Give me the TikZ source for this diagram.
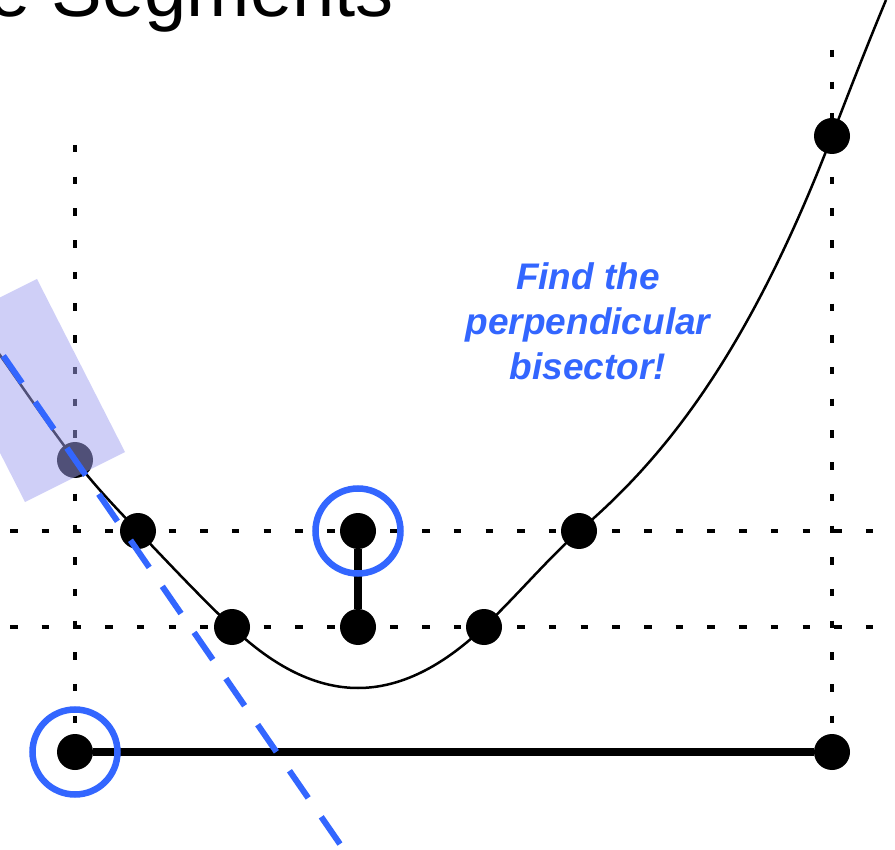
\documentclass[tikz,border=0pt]{standalone}
\usepackage{fontspec}
\setmainfont{Liberation Sans}
\definecolor{hintblue}{RGB}{51,102,255}
\definecolor{boxblue}{RGB}{160,160,240}
\tikzset{
  knot/.style={circle, fill=black, inner sep=0pt, minimum size=36pt},
  ring/.style={circle, draw=hintblue, line width=6.5pt, minimum size=85pt, inner sep=0pt},
  guide/.style={line width=3.2pt, dash pattern=on 7.5pt off 24.2pt},
  seg/.style={line width=8pt},
  bisector/.style={draw=hintblue, line width=6pt, dash pattern=on 33pt off 23pt, dash phase=32.5pt},
}
\begin{document}
\begin{tikzpicture}[x=1pt, y=-1pt]
	\useasboundingbox (0,0) rectangle (895,850);

	% Titel (oben abgeschnitten)
	\node[anchor=base east, inner sep=0pt, font=\fontsize{76}{80}\selectfont] (title) at (394,17) {e Segments};

	% Hilfslinien
	\draw[guide] (75,145) -- (75,725);
	\draw[guide] (832,50) -- (832,725);
	\draw[guide] (10,531) -- (895,531);
	\draw[guide] (10,627) -- (895,627);
	\draw[guide] (10,852) -- (895,852);

	% Kurve
	\draw[line width=2.5pt] (-10,341) .. controls (18.3,380.7) and (46.7,423.2) .. (75,460)
		.. controls (96,487.3) and (117,509) .. (138,531)
		.. controls (169.3,563.9) and (200.7,597.3) .. (232,627)
		.. controls (274,667) and (316,688) .. (358,688)
		.. controls (400,688) and (442,667) .. (484,627)
		.. controls (515.7,596.9) and (547.3,559.5) .. (579,531)
		.. controls (663.3,459.3) and (747.7,355.2) .. (832,136)
		.. controls (850,89.2) and (868,43.2) .. (886,0);

	% Punkte
	\node[knot] (a) at (75,460) {};
	\node[knot] (b) at (138,531) {};
	\node[knot] (c) at (232,627) {};
	\node[knot] (top) at (358,531) {};
	\node[knot] (low) at (358,627) {};
	\node[knot] (d) at (484,627) {};
	\node[knot] (e) at (579,531) {};
	\node[knot] (f) at (832,136) {};
	\node[knot] (s1) at (75,752) {};
	\node[knot] (s2) at (832,752) {};

	% Strecken
	\draw[seg] (top) -- (low);
	\draw[seg] (s1) -- (s2);

	% Markierung
	\fill[boxblue, fill opacity=0.5] (37,279) -- (125,452) -- (25,502) -- (-63,329) -- cycle;

	% Mittelsenkrechte
	\coordinate (bisTop) at (-10,336.5);
	\coordinate (bisBot) at (351,860);
	\draw[bisector] (bisTop) -- (bisBot);

	\node[ring] (r1) at (s1) {};
	\node[ring] (r2) at (top) {};

	\node[align=center, anchor=base, text=hintblue, font=\fontsize{37}{45}\selectfont\bfseries\itshape] (hint) at (588,380) {Find the\\perpendicular\\bisector!};

\end{tikzpicture}
\end{document}
